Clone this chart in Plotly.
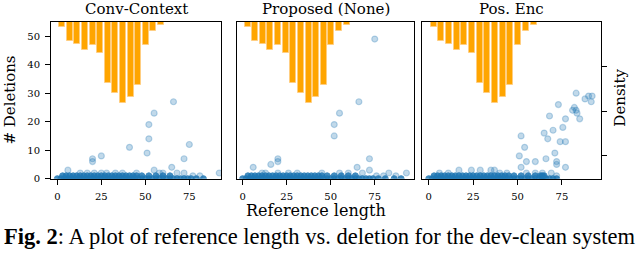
import plotly.graph_objects as go

W, H = 640, 255

# ---------------- data ----------------
panel_titles = ["Conv-Context", "Proposed (None)", "Pos. Enc"]
x_ticks = [0, 25, 50, 75]
y_ticks = [0, 10, 20, 30, 40, 50]
density_ticks = [0.02, 0.04, 0.06]

# histogram of reference length (density), same in every panel
hist_centers = [2.8, 7.1, 11.4, 15.8, 20.1, 24.4, 28.7, 33.0, 37.4, 41.7, 46.0, 50.3, 54.6, 59.0]
hist_density = [0.0022, 0.0086, 0.0098, 0.0127, 0.0105, 0.0138, 0.0273, 0.0317,
                0.0366, 0.0338, 0.0284, 0.0105, 0.0042, 0.0014]

# Conv-Context: scattered points (reference length, # deletions)
p1_x = [66, 55, 52, 52, 41, 51, 75, 72, 25, 20, 20, 65, 6, 55, 72, 92, 81, 77,
        13, 17, 21, 25, 28, 33, 37, 45, 58, 60, 68]
p1_y = [27, 23, 19, 14, 11, 9, 12, 7, 8, 7, 6, 4, 3, 3, 2, 2, 1, 1,
        2, 2, 2, 2, 2, 2, 2, 2, 2, 2, 2]
# dense band of overlapping points near zero
p1_band_x0 = [0, 2, 4, 6, 8, 10, 12, 14, 16, 18, 20, 22, 24, 26, 28, 30, 32, 34, 36, 38, 40,
              42, 44, 46, 48, 50, 52, 54, 56, 58, 60, 62, 64, 66, 68, 70, 72, 74, 76, 79, 83]
p1_band_x1 = [3, 5, 7, 9, 11, 13, 15, 17, 19, 21, 23, 25, 27, 29, 31, 33, 35, 37, 39, 41, 43,
              45, 48, 52, 56, 60, 64]

# Proposed (None)
p2_x = [75, 66, 55, 52, 52, 20, 20, 16, 6, 72, 65, 72, 68, 83, 93, 87, 76, 80,
        11, 13, 20, 26, 31, 45, 55, 60]
p2_y = [49, 27, 23, 19, 15, 7, 6, 5, 4, 7, 4, 3, 2, 2, 2, 1, 1, 1,
        2, 2, 2, 2, 2, 2, 2, 2]
p2_band_x0 = [0, 2, 4, 6, 8, 10, 12, 14, 16, 18, 20, 22, 24, 26, 28, 30, 32, 34, 36, 38, 40,
              42, 44, 46, 48, 50, 52, 54, 56, 58, 60, 62, 64, 66, 68, 70, 72, 74, 77, 81, 86, 90]
p2_band_x1 = [3, 5, 7, 9, 11, 13, 15, 17, 19, 21, 23, 25, 27, 29, 31, 33, 35, 37, 39, 41, 43,
              45, 48, 52, 56, 60, 64]

# Pos. Enc
p3_x = [83, 88, 90, 92, 91.5, 73, 82, 83, 81, 83.5, 68, 77, 85, 75.5, 70, 65, 52, 67, 74, 77,
        54, 51, 71, 66, 55, 60, 72, 72, 52, 77, 60, 64, 55, 69, 72,
        17, 24, 29, 35, 37, 6, 11, 40, 44]
p3_y = [30, 28, 29, 29, 27, 26, 25, 24, 24, 23, 22, 21, 21, 18, 17, 16, 15, 14, 13, 13,
        11, 8, 9, 7, 6, 6, 6, 5, 4, 4, 2, 2, 2, 2, 1,
        3, 3, 3, 3, 3, 2, 2, 2, 2]
p3_band_x0 = [0, 2, 4, 6, 8, 10, 12, 14, 16, 18, 20, 22, 24, 26, 28, 30, 32, 34, 36, 38, 40,
              42, 44, 46, 48, 50, 52, 54, 56, 58, 60, 62, 64, 66, 68, 70, 72]
p3_band_x1 = [3, 5, 7, 9, 11, 13, 15, 17, 19, 21, 23, 25, 27, 29, 31, 33, 35, 37, 39, 41, 43,
              45, 48, 52, 56, 60, 63, 64, 65]

panels = [
    (p1_x, p1_y, p1_band_x0, p1_band_x1),
    (p2_x, p2_y, p2_band_x0, p2_band_x1),
    (p3_x, p3_y, p3_band_x0, p3_band_x1),
]

# ---------------- layout geometry (pixels) ----------------
panel_px = [(51, 221), (237, 414), (422, 601)]
x_ranges = [[-3.6, 93.0], [-3.2, 97.3], [-3.8, 97.0]]
top_px, bot_px = 22.5, 183.0
y_dom = [(H - bot_px) / H, (H - top_px) / H]

BLUE = "#1f77b4"
BLUE_A = "rgba(31,119,180,0.28)"
ORANGE = "#ffa500"
SERIF = "DejaVu Serif"

fig = go.Figure()

for i, (px, py, bx0, bx1) in enumerate(panels):
    n = i + 1
    xa = "x" if n == 1 else f"x{n}"
    ya = "y" if n == 1 else f"y{n}"
    yh = f"y{n + 3}"
    # dense band (many overlapping points)
    fig.add_trace(go.Scatter(
        x=bx0 + bx1, y=[0] * len(bx0) + [1] * len(bx1), mode="markers",
        marker=dict(size=6, color=BLUE, opacity=0.85, line=dict(width=1, color=BLUE)),
        xaxis=xa, yaxis=ya, showlegend=False, hoverinfo="skip"))
    fig.add_trace(go.Scatter(
        x=px, y=py, mode="markers",
        marker=dict(size=6, color=BLUE_A, line=dict(width=1.2, color=BLUE_A)),
        xaxis=xa, yaxis=ya, showlegend=False))
    fig.add_trace(go.Bar(
        x=hist_centers, y=hist_density, width=3.4,
        marker=dict(color=ORANGE, line=dict(color="rgba(255,205,130,0.9)", width=1)),
        xaxis=xa, yaxis=yh, showlegend=False))

axis_common = dict(showline=True, linecolor="black", linewidth=1, mirror=True,
                   showgrid=False, zeroline=False, ticks="outside", ticklen=5,
                   tickcolor="black", ticklabelstandoff=3,
                   tickfont=dict(family=SERIF, size=10, color="black"))

layout = dict(width=W, height=H, margin=dict(l=0, r=0, t=0, b=0),
              paper_bgcolor="white", plot_bgcolor="rgba(0,0,0,0)", autosize=False,
              bargap=0)

for i in range(3):
    n = i + 1
    xk = "xaxis" if n == 1 else f"xaxis{n}"
    yk = "yaxis" if n == 1 else f"yaxis{n}"
    ya = "y" if n == 1 else f"y{n}"
    xa = "x" if n == 1 else f"x{n}"
    x0, x1 = panel_px[i]
    layout[xk] = dict(axis_common, domain=[x0 / W, x1 / W], range=x_ranges[i],
                      tickvals=x_ticks, anchor=ya)
    if n == 1:
        layout[yk] = dict(axis_common, domain=y_dom, range=[0, 55], tickvals=y_ticks, anchor=xa)
    else:
        layout[yk] = dict(axis_common, domain=y_dom, range=[0, 55], tickvals=y_ticks,
                          ticks="", showticklabels=False, anchor=xa)
    hk = f"yaxis{n + 3}"
    if n < 3:
        layout[hk] = dict(overlaying=ya, range=[0.0704, 0], visible=False, anchor=xa)
    else:
        layout[hk] = dict(overlaying=ya, range=[0.0704, 0], side="right", anchor=xa,
                          showline=False, showgrid=False, zeroline=False,
                          ticks="outside", ticklen=5, tickcolor="black",
                          tickvals=density_ticks, showticklabels=False)

fig.update_layout(**layout)

def ann(text, xpx, ypx, size, family=SERIF, angle=0, xanchor="center", yanchor="middle"):
    fig.add_annotation(text=text, x=xpx / W, y=(H - ypx) / H, xref="paper", yref="paper",
                       showarrow=False, textangle=angle, xanchor=xanchor, yanchor=yanchor,
                       font=dict(family=family, size=size, color="black"))

for i, t in enumerate(panel_titles):
    x0, x1 = panel_px[i]
    ann(t, (x0 + x1) / 2, 9.5, 15)

ann("# Deletions", 10, 103, 15, angle=-90)
ann("Reference length", 316, 216, 16)
ann("Density", 620, 100, 15, angle=-90)
ann("<b>Fig. 2</b>: A plot of reference length vs. deletion for the dev-clean system",
    320, 242, 22.5, family="Liberation Serif")

fig.write_html("out.html", config={"displayModeBar": False},
               post_script="document.body.style.margin='0';")
